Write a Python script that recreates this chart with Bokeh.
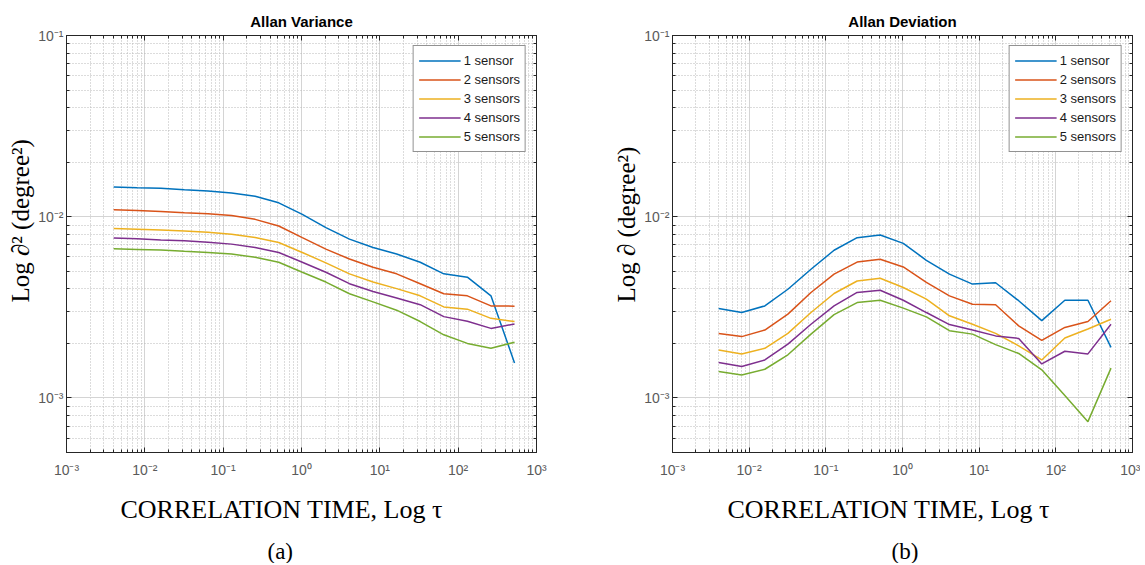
from bokeh.plotting import figure
from bokeh.layouts import row
from bokeh.models import (Range1d, FixedTicker, CustomJSTickFormatter, LogAxis, Title, Legend)
from bokeh.embed import file_html
from bokeh.resources import INLINE

# ---------------- data ----------------
tau = [0.004, 0.008, 0.016, 0.032, 0.064, 0.128, 0.256, 0.512, 1.024, 2.048,
       4.096, 8.192, 16.384, 32.768, 65.536, 131.072, 262.144, 524.288]

series_names = ["1 sensor", "2 sensors", "3 sensors", "4 sensors", "5 sensors"]
series_colors = ["#0072BD", "#D95319", "#EDB120", "#7E2F8E", "#77AC30"]

var1 = [0.0146, 0.01445, 0.01436, 0.0141, 0.01387, 0.01352, 0.01298, 0.01193, 0.0103,
        0.00871, 0.00752, 0.00677, 0.00623, 0.00561, 0.00484, 0.00464, 0.00366, 0.00156]
var2 = [0.01092, 0.01083, 0.01069, 0.01051, 0.01038, 0.01017, 0.00967, 0.00889, 0.00767,
        0.00663, 0.00584, 0.00526, 0.00484, 0.00427, 0.00376, 0.00366, 0.00322, 0.00321]
var3 = [0.0086, 0.00853, 0.00845, 0.00835, 0.00821, 0.008, 0.00767, 0.00721, 0.00635,
        0.00556, 0.00484, 0.00436, 0.00401, 0.00366, 0.00318, 0.00309, 0.00275, 0.00264]
var4 = [0.00762, 0.00755, 0.00745, 0.00736, 0.00724, 0.00706, 0.00677, 0.00635, 0.00561,
        0.00494, 0.00427, 0.00387, 0.00356, 0.00327, 0.00281, 0.00265, 0.00242, 0.00256]
var5 = [0.00665, 0.0066, 0.00655, 0.00644, 0.00635, 0.00622, 0.00597, 0.00561, 0.00494,
        0.00436, 0.00376, 0.00339, 0.00305, 0.00264, 0.00223, 0.002, 0.00188, 0.00203]

dev1 = [0.00312, 0.00296, 0.00322, 0.00398, 0.00513, 0.00653, 0.00766, 0.00792, 0.00713,
        0.00575, 0.00482, 0.00425, 0.00432, 0.00344, 0.00267, 0.00346, 0.00346, 0.0019]
dev2 = [0.00227, 0.00218, 0.00237, 0.0029, 0.00382, 0.00482, 0.00562, 0.00582, 0.00528,
        0.00434, 0.00366, 0.00329, 0.00327, 0.0025, 0.00208, 0.00245, 0.00264, 0.00344]
dev3 = [0.00184, 0.00175, 0.00188, 0.00227, 0.00296, 0.00377, 0.00442, 0.00458, 0.00407,
        0.00351, 0.00284, 0.00255, 0.00227, 0.00194, 0.00162, 0.00214, 0.0024, 0.00272]
dev4 = [0.00157, 0.00149, 0.00162, 0.00198, 0.00255, 0.00322, 0.00382, 0.00393, 0.00346,
        0.00296, 0.00254, 0.00237, 0.0022, 0.00213, 0.00154, 0.00181, 0.00175, 0.00255]
dev5 = [0.0014, 0.00134, 0.00144, 0.00173, 0.00225, 0.00288, 0.00336, 0.00346, 0.00313,
        0.0028, 0.00235, 0.00225, 0.00197, 0.00176, 0.00143, 0.00103, 0.00074, 0.00146]

x_decades = [1e-3, 1e-2, 1e-1, 1e0, 1e1, 1e2, 1e3]
y_decades = [1e-3, 1e-2, 1e-1]

# ---------------- styling helpers ----------------
AX_COLOR = "#262626"
TICK_LABEL_COLOR = "#5a5a5a"
FIG_H = 563
FRAME_BOTTOM = 452
SERIF = "Liberation Serif"

sup_code = """
const e = Math.round(Math.log10(tick));
const sup = {"-": "\u207b", "0": "\u2070", "1": "\u00b9", "2": "\u00b2", "3": "\u00b3",
             "4": "\u2074", "5": "\u2075", "6": "\u2076", "7": "\u2077", "8": "\u2078", "9": "\u2079"};
return "10" + String(e).split("").map(c => sup[c]).join("");
"""


def minor_of(decades, lo):
    out = []
    for d in decades:
        for m in range(2, 10):
            v = d * m
            if v >= lo and v <= decades[-1] * 1.0001:
                out.append(v)
    return out


def make_panel(title, ylabel, sub, series, border_left, border_right, border_top, width,
               xlabel_off, sub_off, title_standoff):
    p = figure(width=width, height=FIG_H, x_axis_type="log", y_axis_type="log",
               x_range=Range1d(1e-3, 1e3), y_range=Range1d(5e-4, 1e-1),
               output_backend="svg", toolbar_location=None,
               min_border_left=border_left, min_border_right=border_right,
               min_border_top=border_top, min_border_bottom=FIG_H - FRAME_BOTTOM)
    p.background_fill_color = "white"
    p.border_fill_color = "white"
    p.outline_line_color = AX_COLOR
    p.outline_line_width = 1

    xt = FixedTicker(ticks=x_decades, minor_ticks=minor_of([1e-4] + x_decades, 1e-3))
    yt = FixedTicker(ticks=y_decades, minor_ticks=minor_of([1e-4] + y_decades, 5e-4))
    fmt = CustomJSTickFormatter(code=sup_code)

    for ax, tk in ((p.xaxis[0], xt), (p.yaxis[0], yt)):
        ax.ticker = tk
        ax.formatter = fmt
        ax.axis_line_color = AX_COLOR
        ax.major_tick_line_color = AX_COLOR
        ax.minor_tick_line_color = AX_COLOR
        ax.major_tick_in = 5
        ax.major_tick_out = 0
        ax.minor_tick_in = 3
        ax.minor_tick_out = 0
        ax.major_label_text_font = "Liberation Sans"
        ax.major_label_text_font_size = "14px"
        ax.major_label_text_color = TICK_LABEL_COLOR
        ax.axis_label_standoff = 0
    p.xaxis[0].major_label_standoff = 9
    p.yaxis[0].major_label_standoff = 3

    blank = CustomJSTickFormatter(code="return '';")
    for tk, side in ((xt, "above"), (yt, "right")):
        ax = LogAxis(ticker=tk, formatter=blank)
        ax.axis_line_color = AX_COLOR
        ax.major_tick_line_color = AX_COLOR
        ax.minor_tick_line_color = AX_COLOR
        ax.major_tick_in = 5
        ax.major_tick_out = 0
        ax.minor_tick_in = 3
        ax.minor_tick_out = 0
        ax.major_label_text_font_size = "0px"
        ax.major_label_standoff = 0
        ax.axis_label_standoff = 0
        p.add_layout(ax, side)

    for g, tk in ((p.xgrid[0], xt), (p.ygrid[0], yt)):
        g.ticker = tk
        g.grid_line_color = "#d4d4d4"
        g.grid_line_width = 1
        g.minor_grid_line_color = "#b8b8b8"
        g.minor_grid_line_dash = "1 2"
        g.minor_grid_line_width = 1

    p.title.text = title
    p.title.align = "center"
    p.title.text_font = "Liberation Sans"
    p.title.text_font_size = "15px"
    p.title.text_font_style = "bold"
    p.title.text_color = "black"
    p.title.standoff = title_standoff

    items = []
    for name, color, vals in zip(series_names, series_colors, series):
        r = p.line(tau, vals, line_color=color, line_width=1.5)
        items.append((name, [r]))
    leg = Legend(items=items, location="top_right")
    leg.margin = 10
    leg.padding = 5
    leg.spacing = 0
    leg.label_height = 19
    leg.glyph_height = 19
    leg.glyph_width = 42
    leg.label_standoff = 3
    leg.label_text_font = "Liberation Sans"
    leg.label_text_font_size = "13px"
    leg.label_text_color = "#1a1a1a"
    leg.border_line_color = AX_COLOR
    leg.border_line_width = 1
    leg.background_fill_color = "white"
    leg.background_fill_alpha = 1
    p.add_layout(leg)

    # y label (rotated, placed along the left side)
    ylab = Title(text=ylabel, align="left", offset=150, text_font=SERIF,
                 text_font_size="25px", text_font_style="normal", text_color="black",
                 standoff=4)
    p.add_layout(ylab, "left")

    # x label and panel caption below
    xlab = Title(text="CORRELATION TIME, Log \u03c4", align="left", offset=xlabel_off,
                 text_font=SERIF, text_font_size="26px", text_font_style="normal",
                 text_color="black", standoff=25)
    p.add_layout(xlab, "below")
    sub_t = Title(text=sub, align="left", offset=sub_off, text_font=SERIF,
                  text_font_size="23px", text_font_style="normal", text_color="black",
                  standoff=0)
    p.add_layout(sub_t, "below")
    return p


p1 = make_panel("Allan Variance", "Log \u2202\u00b2 (degree\u00b2)", "(a)",
                [var1, var2, var3, var4, var5], 66, 50, 35, 586, 54, 201, 12)
p2 = make_panel("Allan Deviation", "Log \u2202 (degree\u00b2)", "(b)",
                [dev1, dev2, dev3, dev4, dev5], 86, 8, 35, 554, 55, 219, 12)

layout = row(p1, p2)
open("out.html", "w").write(file_html(layout, INLINE))
